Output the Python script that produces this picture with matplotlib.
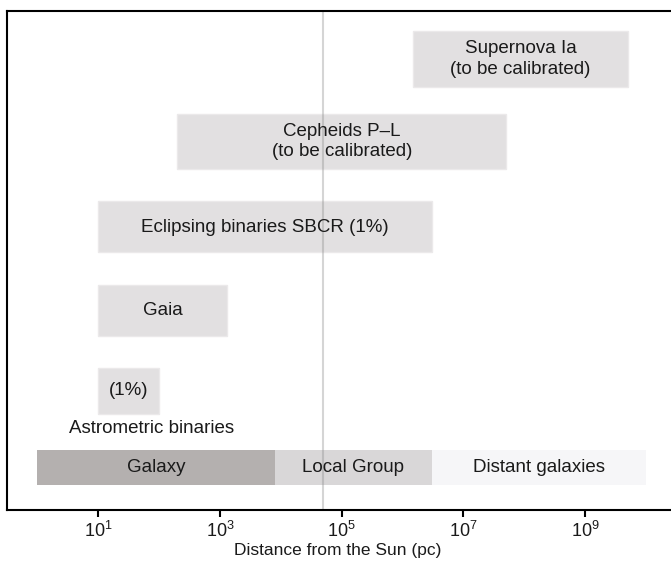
#!/usr/bin/env python3
"""
Distance ladder chart: calibration methods vs. distance from the Sun.
"""

import matplotlib.pyplot as plt

plt.rcParams["font.family"] = ["Liberation Sans", "DejaVu Sans"]
plt.rcParams["mathtext.fontset"] = "custom"
plt.rcParams["mathtext.rm"] = "Liberation Sans"
plt.rcParams["mathtext.it"] = "Liberation Sans:italic"

# Distance methods (pc)
methods = ["Supernova Ia\n(to be calibrated)",
           "Cepheids P–L\n(to be calibrated)",
           "Eclipsing binaries SBCR (1%)",
           "Gaia",
           "(1%)"]
method_start = [1.5e6, 2e2, 10, 10, 10]
method_end = [5e9, 5e7, 3e6, 1.3e3, 100]

# Regions along the bottom band (pc)
regions = ["Galaxy", "Local Group", "Distant galaxies"]
region_start = [1, 8e3, 3e6]
region_end = [8e3, 3e6, 1e10]

lmc_distance = 5e4
tick_values = [1e1, 1e3, 1e5, 1e7, 1e9]

# Layout (rows measured top-down)
ROW_Y = [48, 130.5, 216, 299.5, 380]
ROW_H = [56, 55, 51, 51, 46]
BAND_Y, BAND_H = 457, 35
REGION_COLORS = ["#b4b0af", "#d9d7d8", "#f6f6f8"]
BAR_COLOR = "#e2e0e1"
FS = 13.5

fig = plt.figure(figsize=(6.71, 5.65), dpi=100)
ax = fig.add_axes([7 / 671, 55 / 565, 669.5 / 671, 499 / 565])
ax.set_xscale("log")
ax.set_xlim(10 ** -0.5, 10 ** 10.5)
ax.set_ylim(499, 0)

for name, s, e, y, h in zip(methods, method_start, method_end, ROW_Y, ROW_H):
    ax.barh(y, e - s, left=s, height=h, color=BAR_COLOR,
            edgecolor="#ebe9ea", linewidth=1, zorder=1)
    ax.text((s * e) ** 0.5, y, name, ha="center", va="center",
            fontsize=FS, linespacing=1.25, color="#1a1a1a", zorder=3)

ax.text(75, 418, "Astrometric binaries", ha="center", va="center",
        fontsize=FS, color="#1a1a1a")

for name, s, e, c in zip(regions, region_start, region_end, REGION_COLORS):
    ax.barh(BAND_Y, e - s, left=s, height=BAND_H, color=c,
            linewidth=0, zorder=1)
    ax.text((s * e) ** 0.5, BAND_Y, name, ha="center", va="center",
            fontsize=FS, color="#1a1a1a", zorder=3)

ax.axvline(lmc_distance, color="#888888", alpha=0.35, lw=1.5, zorder=2)

ax.set_xticks(tick_values)
ax.xaxis.set_minor_locator(plt.NullLocator())
ax.set_yticks([])
ax.tick_params(axis="x", direction="out", length=5, width=1.5,
               labelsize=13, pad=3, labelcolor="#1a1a1a")
for sp in ax.spines.values():
    sp.set_linewidth(1.5)

ax.set_xlabel("Distance from the Sun (pc)", fontsize=12.5, color="#1a1a1a")
ax.xaxis.set_label_coords((338 - 7) / 669.5, -0.066)

fig.savefig("out.png", dpi=100)
